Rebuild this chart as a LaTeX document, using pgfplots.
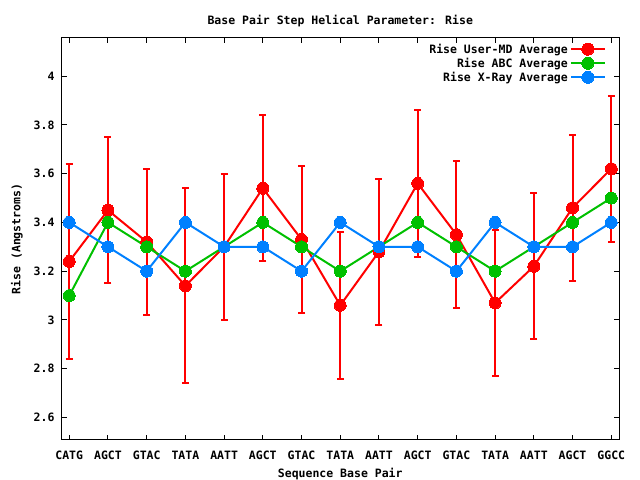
\documentclass[border=0pt]{standalone}
\usepackage{pgfplots}
\pgfplotsset{compat=1.18}
\usepackage{fontspec}
\setmainfont{DejaVu Sans Mono}[BoldFont={DejaVu Sans Mono Bold}]
\definecolor{gpred}{RGB}{255,0,0}
\definecolor{gpgreen}{RGB}{0,192,0}
\definecolor{gpblue}{RGB}{0,128,255}
\newcommand{\gpfont}{\fontsize{11.5bp}{13bp}\selectfont\bfseries}
\begin{document}
\gpfont
\begin{tikzpicture}
\useasboundingbox (0,0) rectangle (640bp,480bp);
\begin{axis}[
  at={(61.5bp,40bp)}, anchor=south west,
  scale only axis, width=557.5bp, height=402bp,
  xmin=-0.2, xmax=14.2, ymin=2.508, ymax=4.156,
  xtick={0,...,14},
  xticklabels={CATG,AGCT,GTAC,TATA,AATT,AGCT,GTAC,TATA,AATT,AGCT,GTAC,TATA,AATT,AGCT,GGCC},
  ytick={2.6,2.8,3,3.2,3.4,3.6,3.8,4},
  /pgf/number format/assume math mode=true,
  /pgf/number format/.cd, fixed, precision=1, /pgfplots/.cd,
  tick align=inside, major tick length=5bp,
  tick style={line width=1bp, black},
  axis line style={line width=1bp},
  ticklabel style={font=\gpfont},
  xticklabel style={yshift=-7bp},
  yticklabel style={xshift=-3bp},
  title={Base Pair Step Helical Parameter: Rise},
  title style={at={(0.5,1)}, anchor=center, yshift=11bp, font=\gpfont},
  xlabel={Sequence Base Pair},
  xlabel style={at={(0.5,0)}, anchor=center, yshift=-34.5bp, font=\gpfont},
  ylabel={Rise (Angstroms)},
  ylabel style={at={(0,0.5)}, anchor=center, yshift=44.5bp, font=\gpfont},
  legend cell align=right,
  legend plot pos=right,
  legend style={at={(1,1)}, anchor=north east, xshift=-10bp, yshift=-1.5bp, draw=none, fill=none,
    font=\gpfont, row sep=-1bp},
  legend image code/.code={\draw[mark repeat=2, mark phase=2, #1] plot coordinates {(0bp,0bp) (17bp,0bp) (34bp,0bp)};},
]
\addplot[color=gpred, line width=2bp, mark=*, mark size=6bp,
  mark options={solid, fill=gpred, line width=0pt},
  error bars/.cd, y dir=both, y explicit,
  error bar style={line width=2bp, gpred},
  error mark options={line width=2bp, mark size=3.5bp, rotate=90, gpred}]
  table[x=x, y=y, y error=e] {
x y e
0 3.24 0.40
1 3.45 0.30
2 3.32 0.30
3 3.14 0.40
4 3.30 0.30
5 3.54 0.30
6 3.33 0.30
7 3.06 0.30
8 3.28 0.30
9 3.56 0.30
10 3.35 0.30
11 3.07 0.30
12 3.22 0.30
13 3.46 0.30
14 3.62 0.30
};
\addlegendentry{Rise User-MD Average}
\addplot[color=gpgreen, line width=2bp, mark=*, mark size=6bp,
  mark options={solid, fill=gpgreen, line width=0pt}]
  coordinates {(0,3.10) (1,3.40) (2,3.30) (3,3.20) (4,3.30) (5,3.40) (6,3.30) (7,3.20) (8,3.30) (9,3.40) (10,3.30) (11,3.20) (12,3.30) (13,3.40) (14,3.50)};
\addlegendentry{Rise ABC Average}
\addplot[color=gpblue, line width=2bp, mark=*, mark size=6bp,
  mark options={solid, fill=gpblue, line width=0pt}]
  coordinates {(0,3.40) (1,3.30) (2,3.20) (3,3.40) (4,3.30) (5,3.30) (6,3.20) (7,3.40) (8,3.30) (9,3.30) (10,3.20) (11,3.40) (12,3.30) (13,3.30) (14,3.40)};
\addlegendentry{Rise X-Ray Average}
\end{axis}
\end{tikzpicture}
\end{document}
